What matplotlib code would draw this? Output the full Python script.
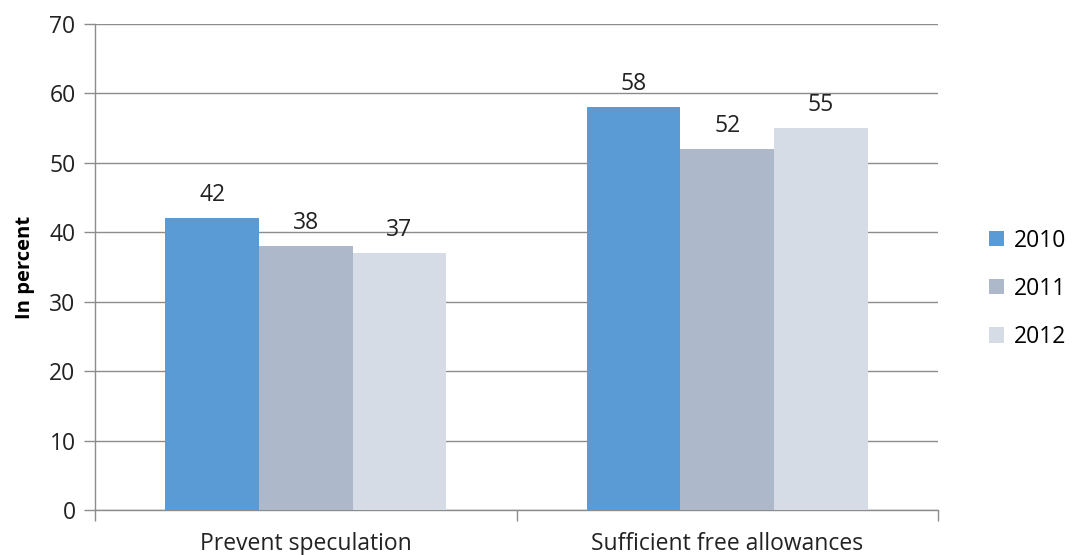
import numpy as np
import matplotlib.pyplot as plt

plt.rcParams['font.family'] = ['Open Sans', 'DejaVu Sans']

categories = ['Prevent speculation', 'Sufficient free allowances']
years = ['2010', '2011', '2012']
values = {
    '2010': [42, 58],
    '2011': [38, 52],
    '2012': [37, 55],
}
colors = ['#5B9BD5', '#ADB9CA', '#D6DCE5']

fig = plt.figure(figsize=(10.73, 5.55), dpi=100)
ax = fig.add_axes([95/1073, 45/555, 843/1073, 486/555])

x = np.arange(len(categories))
w = 0.222
for i, yr in enumerate(years):
    bars = ax.bar(x + (i - 1) * w, values[yr], w, color=colors[i], label=yr, zorder=3)
    for b, v in zip(bars, values[yr]):
        ax.annotate(str(v), (b.get_x() + b.get_width() / 2, v), xytext=(0, 8),
                    textcoords='offset points', ha='center', va='bottom',
                    fontsize=16.5, color='#222222')

ax.set_xlim(-0.5, 1.5)
ax.set_ylim(0, 70)
ax.set_yticks(range(0, 71, 10))
ax.yaxis.grid(True, color='#8c8c8c', linewidth=1, zorder=0)
ax.set_axisbelow(True)

ax.set_xticks([-0.5, 0.5, 1.5], minor=False)
ax.set_xticklabels([])
ax.set_xticks(x, minor=True)
ax.set_xticklabels(categories, minor=True, fontsize=16.5, color='#222222')
ax.tick_params(axis='x', which='major', length=8, color='#8c8c8c', width=1)
ax.tick_params(axis='x', which='minor', length=0, pad=16)
ax.tick_params(axis='y', length=8, color='#8c8c8c', width=1, labelsize=16.5,
               labelcolor='#222222', pad=6)

for s in ['top', 'right']:
    ax.spines[s].set_visible(False)
for s in ['left', 'bottom']:
    ax.spines[s].set_color('#8c8c8c')
    ax.spines[s].set_linewidth(1)

ax.set_ylabel('In percent', fontsize=14.5, fontweight='bold', labelpad=10)

leg = ax.legend(loc='center left', bbox_to_anchor=(1.036, 0.455), frameon=False,
                fontsize=16.5, handlelength=0.65, handleheight=0.65,
                handletextpad=0.45, labelspacing=1.05)

fig.savefig('out.png', dpi=100)
